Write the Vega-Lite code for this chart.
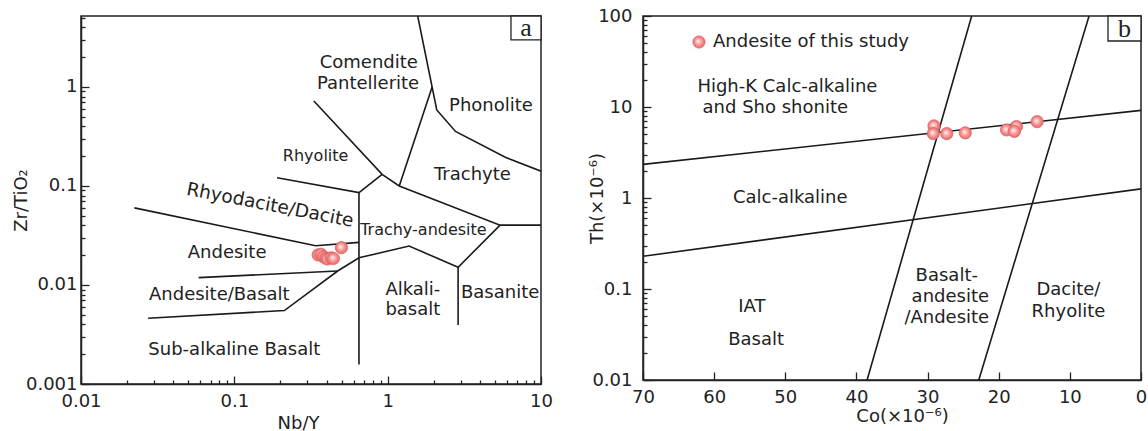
{
  "$schema": "https://vega.github.io/schema/vega-lite/v6.json",
  "padding": {"left": 11, "top": 6, "right": 0, "bottom": 0},
  "spacing": 34,
  "resolve": {"legend": {"shape": "independent"}},
  "config": {
    "font": "DejaVu Sans",
    "view": {"stroke": "#222", "strokeWidth": 1.5},
    "axis": {
      "domainColor": "#222", "domainWidth": 1.5, "tickColor": "#222", "tickWidth": 1.3,
      "labelColor": "#222", "labelFontSize": 18, "titleFontSize": 18, "titleFontWeight": "normal",
      "titleColor": "#222", "grid": false, "labelFont": "DejaVu Sans", "titleFont": "DejaVu Sans",
      "labelOverlap": false, "labelBound": false, "labelFlush": false
    },
    "text": {"font": "DejaVu Sans", "color": "#222"}
  },
  "datasets": {
    "fieldsA": [
      {"seg": "s1", "ord": 1, "nb_y": 1.57, "zr_tio2": 5.2},
      {"seg": "s1", "ord": 2, "nb_y": 2.09, "zr_tio2": 0.585},
      {"seg": "s1", "ord": 3, "nb_y": 2.77, "zr_tio2": 0.355},
      {"seg": "s1", "ord": 4, "nb_y": 5.85, "zr_tio2": 0.195},
      {"seg": "s1", "ord": 5, "nb_y": 10, "zr_tio2": 0.141},
      {"seg": "s2", "ord": 1, "nb_y": 1.19, "zr_tio2": 0.1},
      {"seg": "s2", "ord": 2, "nb_y": 1.95, "zr_tio2": 1.0},
      {"seg": "s3", "ord": 1, "nb_y": 0.33, "zr_tio2": 0.72},
      {"seg": "s3", "ord": 2, "nb_y": 0.92, "zr_tio2": 0.131},
      {"seg": "s3", "ord": 3, "nb_y": 1.19, "zr_tio2": 0.1},
      {"seg": "s3", "ord": 4, "nb_y": 5.41, "zr_tio2": 0.0402},
      {"seg": "s3", "ord": 5, "nb_y": 10, "zr_tio2": 0.0402},
      {"seg": "s4", "ord": 1, "nb_y": 0.92, "zr_tio2": 0.131},
      {"seg": "s4", "ord": 2, "nb_y": 0.65, "zr_tio2": 0.0858},
      {"seg": "s4", "ord": 3, "nb_y": 0.19, "zr_tio2": 0.121},
      {"seg": "s5", "ord": 1, "nb_y": 0.65, "zr_tio2": 0.0858},
      {"seg": "s5", "ord": 2, "nb_y": 0.65, "zr_tio2": 0.00157},
      {"seg": "s6", "ord": 1, "nb_y": 0.0223, "zr_tio2": 0.06},
      {"seg": "s6", "ord": 2, "nb_y": 0.339, "zr_tio2": 0.0249},
      {"seg": "s6", "ord": 3, "nb_y": 0.65, "zr_tio2": 0.0269},
      {"seg": "s7", "ord": 1, "nb_y": 0.0585, "zr_tio2": 0.01185},
      {"seg": "s7", "ord": 2, "nb_y": 0.472, "zr_tio2": 0.01384},
      {"seg": "s8", "ord": 1, "nb_y": 0.0274, "zr_tio2": 0.00461},
      {"seg": "s8", "ord": 2, "nb_y": 0.212, "zr_tio2": 0.00552},
      {"seg": "s8", "ord": 3, "nb_y": 0.472, "zr_tio2": 0.01384},
      {"seg": "s8", "ord": 4, "nb_y": 0.65, "zr_tio2": 0.0188},
      {"seg": "s8", "ord": 5, "nb_y": 1.38, "zr_tio2": 0.0247},
      {"seg": "s8", "ord": 6, "nb_y": 2.88, "zr_tio2": 0.0151},
      {"seg": "s8", "ord": 7, "nb_y": 5.41, "zr_tio2": 0.0402},
      {"seg": "s9", "ord": 1, "nb_y": 2.88, "zr_tio2": 0.0151},
      {"seg": "s9", "ord": 2, "nb_y": 2.88, "zr_tio2": 0.00395}
    ],
    "labelsA": [
      {"name": "Comendite", "nb_y": 0.753, "zr_tio2": 1.75},
      {"name": "Pantellerite", "nb_y": 0.745, "zr_tio2": 1.08},
      {"name": "Phonolite", "nb_y": 4.72, "zr_tio2": 0.645},
      {"name": "Trachyte", "nb_y": 3.57, "zr_tio2": 0.129},
      {"name": "Andesite", "nb_y": 0.0897, "zr_tio2": 0.0208},
      {"name": "Andesite/Basalt", "nb_y": 0.0798, "zr_tio2": 0.00793},
      {"name": "Alkali-", "nb_y": 1.46, "zr_tio2": 0.0089},
      {"name": "basalt", "nb_y": 1.46, "zr_tio2": 0.0056},
      {"name": "Basanite", "nb_y": 5.41, "zr_tio2": 0.00824},
      {"name": "Sub-alkaline Basalt", "nb_y": 0.1, "zr_tio2": 0.00222}
    ],
    "labelsAsmall": [
      {"name": "Rhyolite", "nb_y": 0.339, "zr_tio2": 0.2},
      {"name": "Trachy-andesite", "nb_y": 1.71, "zr_tio2": 0.0358}
    ],
    "labelsAtilted": [
      {"name": "Rhyodacite/Dacite", "nb_y": 0.171, "zr_tio2": 0.0643}
    ],
    "samplesA": [
      {"nb_y": 0.352, "zr_tio2": 0.0201},
      {"nb_y": 0.368, "zr_tio2": 0.0204},
      {"nb_y": 0.381, "zr_tio2": 0.0193},
      {"nb_y": 0.395, "zr_tio2": 0.0187},
      {"nb_y": 0.405, "zr_tio2": 0.0183},
      {"nb_y": 0.428, "zr_tio2": 0.0188},
      {"nb_y": 0.443, "zr_tio2": 0.0185},
      {"nb_y": 0.499, "zr_tio2": 0.0238}
    ],
    "tagA": [
      {"tag": "a", "nb_y": 6.37, "nb_y2": 10, "zr_tio2": 2.99, "zr_tio2_2": 5.2, "nb_y_c": 7.98, "zr_tio2_c": 3.94}
    ],
    "fieldsB": [
      {"seg": "b1", "ord": 1, "co": 70, "th": 2.34},
      {"seg": "b1", "ord": 2, "co": 0, "th": 9.18},
      {"seg": "b2", "ord": 1, "co": 70, "th": 0.229},
      {"seg": "b2", "ord": 2, "co": 0, "th": 1.26},
      {"seg": "b3", "ord": 1, "co": 23.8, "th": 100},
      {"seg": "b3", "ord": 2, "co": 38.5, "th": 0.01},
      {"seg": "b4", "ord": 1, "co": 7.3, "th": 100},
      {"seg": "b4", "ord": 2, "co": 22.8, "th": 0.01}
    ],
    "labelsB": [
      {"name": "High-K Calc-alkaline", "co": 49.7, "th": 16.7},
      {"name": "and  Sho shonite", "co": 51.4, "th": 9.75},
      {"name": "Calc-alkaline", "co": 49.3, "th": 1.0},
      {"name": "IAT", "co": 54.7, "th": 0.0642},
      {"name": "Basalt", "co": 54.1, "th": 0.0278},
      {"name": "Basalt-", "co": 27.3, "th": 0.138},
      {"name": "andesite", "co": 26.8, "th": 0.082},
      {"name": "/Andesite", "co": 27.3, "th": 0.0484},
      {"name": "Dacite/", "co": 10.2, "th": 0.0983},
      {"name": "Rhyolite", "co": 10.2, "th": 0.0565}
    ],
    "samplesB": [
      {"sample": "Andesite of this study", "co": 29.1, "th": 6.2},
      {"sample": "Andesite of this study", "co": 29.2, "th": 5.1},
      {"sample": "Andesite of this study", "co": 27.3, "th": 5.1},
      {"sample": "Andesite of this study", "co": 24.7, "th": 5.2},
      {"sample": "Andesite of this study", "co": 18.9, "th": 5.6},
      {"sample": "Andesite of this study", "co": 17.5, "th": 6.1},
      {"sample": "Andesite of this study", "co": 17.8, "th": 5.4},
      {"sample": "Andesite of this study", "co": 14.6, "th": 6.9}
    ],
    "tagB": [
      {"tag": "b", "co": 4.64, "co2": 0, "th": 53.1, "th2": 100, "co_c": 2.32, "th_c": 72.7}
    ]
  },
  "hconcat": [
    {
      "width": 460,
      "height": 368,
      "layer": [
        {
          "data": {"name": "fieldsA"},
          "mark": {"type": "line", "color": "#1a1a1a", "strokeWidth": 1.6, "clip": true},
          "encoding": {
            "x": {
              "field": "nb_y", "type": "quantitative",
              "scale": {"type": "log", "domain": [0.01, 10], "nice": false},
              "axis": {
                "title": "Nb/Y",
                "values": [0.01,0.02,0.03,0.04,0.05,0.06,0.07,0.08,0.09,0.1,0.2,0.3,0.4,0.5,0.6,0.7,0.8,0.9,1,2,3,4,5,6,7,8,9,10],
                "labelExpr": "abs(log(datum.value)/LN10 - round(log(datum.value)/LN10)) < 0.000001 ? format(datum.value, '~g') : ''",
                "tickSize": {"condition": {"test": "abs(log(datum.value)/LN10 - round(log(datum.value)/LN10)) < 0.000001", "value": -8}, "value": -4},
                "labelPadding": 16,
                "titlePadding": 0,
                "titleX": 217
              }
            },
            "y": {
              "field": "zr_tio2", "type": "quantitative",
              "scale": {"type": "log", "domain": [0.001, 5.2], "nice": false},
              "axis": {
                "title": "Zr/TiO₂",
                "values": [0.001,0.002,0.003,0.004,0.005,0.006,0.007,0.008,0.009,0.01,0.02,0.03,0.04,0.05,0.06,0.07,0.08,0.09,0.1,0.2,0.3,0.4,0.5,0.6,0.7,0.8,0.9,1,2,3,4,5],
                "labelExpr": "abs(log(datum.value)/LN10 - round(log(datum.value)/LN10)) < 0.000001 ? format(datum.value, '~g') : ''",
                "tickSize": {"condition": {"test": "abs(log(datum.value)/LN10 - round(log(datum.value)/LN10)) < 0.000001", "value": -8}, "value": -4},
                "labelPadding": 12,
                "titlePadding": -5
              }
            },
            "detail": {"field": "seg", "type": "nominal"},
            "order": {"field": "ord", "type": "quantitative"}
          }
        },
        {
          "data": {"name": "labelsA"},
          "mark": {"type": "text", "fontSize": 18, "align": "center", "baseline": "middle"},
          "encoding": {
            "x": {"field": "nb_y", "type": "quantitative"},
            "y": {"field": "zr_tio2", "type": "quantitative"},
            "text": {"field": "name"}
          }
        },
        {
          "data": {"name": "labelsAsmall"},
          "mark": {"type": "text", "fontSize": 16, "align": "center", "baseline": "middle"},
          "encoding": {
            "x": {"field": "nb_y", "type": "quantitative"},
            "y": {"field": "zr_tio2", "type": "quantitative"},
            "text": {"field": "name"}
          }
        },
        {
          "data": {"name": "labelsAtilted"},
          "mark": {"type": "text", "fontSize": 18.5, "align": "center", "baseline": "middle", "angle": 11},
          "encoding": {
            "x": {"field": "nb_y", "type": "quantitative"},
            "y": {"field": "zr_tio2", "type": "quantitative"},
            "text": {"field": "name"}
          }
        },
        {
          "data": {"name": "samplesA"},
          "mark": {
            "type": "point", "filled": true, "shape": "circle", "size": 150, "opacity": 1,
            "fill": {"gradient": "radial", "x1": 0.42, "y1": 0.42, "r1": 0, "x2": 0.5, "y2": 0.5, "r2": 0.55,
              "stops": [{"offset": 0, "color": "#fff2f2"}, {"offset": 0.45, "color": "#f7a3a3"}, {"offset": 1, "color": "#e65a5a"}]},
            "stroke": "#e06464", "strokeWidth": 0.8
          },
          "encoding": {
            "x": {"field": "nb_y", "type": "quantitative"},
            "y": {"field": "zr_tio2", "type": "quantitative"}
          }
        },
        {
          "data": {"name": "tagA"},
          "mark": {"type": "rect", "fill": "white", "stroke": "#222", "strokeWidth": 1.3},
          "encoding": {
            "x": {"field": "nb_y", "type": "quantitative"},
            "x2": {"field": "nb_y2"},
            "y": {"field": "zr_tio2", "type": "quantitative"},
            "y2": {"field": "zr_tio2_2"}
          }
        },
        {
          "data": {"name": "tagA"},
          "mark": {"type": "text", "font": "Liberation Serif", "fontSize": 26, "align": "center", "baseline": "middle"},
          "encoding": {
            "x": {"field": "nb_y_c", "type": "quantitative"},
            "y": {"field": "zr_tio2_c", "type": "quantitative"},
            "text": {"field": "tag"}
          }
        }
      ]
    },
    {
      "width": 498,
      "height": 364,
      "layer": [
        {
          "data": {"name": "fieldsB"},
          "mark": {"type": "line", "color": "#1a1a1a", "strokeWidth": 1.6, "clip": true},
          "encoding": {
            "x": {
              "field": "co", "type": "quantitative",
              "scale": {"domain": [0, 70], "reverse": true, "nice": false, "zero": false},
              "axis": {
                "title": "Co(×10⁻⁶)",
                "values": [0, 10, 20, 30, 40, 50, 60, 70],
                "tickSize": -8,
                "labelPadding": 16,
                "titlePadding": 1,
                "titleX": 259
              }
            },
            "y": {
              "field": "th", "type": "quantitative",
              "scale": {"type": "log", "domain": [0.01, 100], "nice": false},
              "axis": {
                "title": "Th(×10⁻⁶)",
                "values": [0.01,0.02,0.03,0.04,0.05,0.06,0.07,0.08,0.09,0.1,0.2,0.3,0.4,0.5,0.6,0.7,0.8,0.9,1,2,3,4,5,6,7,8,9,10,20,30,40,50,60,70,80,90,100],
                "labelExpr": "abs(log(datum.value)/LN10 - round(log(datum.value)/LN10)) < 0.000001 ? format(datum.value, '~g') : ''",
                "tickSize": {"condition": {"test": "abs(log(datum.value)/LN10 - round(log(datum.value)/LN10)) < 0.000001", "value": -8}, "value": -4},
                "labelPadding": 19,
                "titlePadding": -15
              }
            },
            "detail": {"field": "seg", "type": "nominal"},
            "order": {"field": "ord", "type": "quantitative"}
          }
        },
        {
          "data": {"name": "labelsB"},
          "mark": {"type": "text", "fontSize": 18, "align": "center", "baseline": "middle"},
          "encoding": {
            "x": {"field": "co", "type": "quantitative"},
            "y": {"field": "th", "type": "quantitative"},
            "text": {"field": "name"}
          }
        },
        {
          "data": {"name": "samplesB"},
          "mark": {
            "type": "point", "filled": true, "size": 150, "opacity": 1,
            "fill": {"gradient": "radial", "x1": 0.42, "y1": 0.42, "r1": 0, "x2": 0.5, "y2": 0.5, "r2": 0.55,
              "stops": [{"offset": 0, "color": "#fff2f2"}, {"offset": 0.45, "color": "#f7a3a3"}, {"offset": 1, "color": "#e65a5a"}]},
            "stroke": "#e06464", "strokeWidth": 0.8
          },
          "encoding": {
            "x": {"field": "co", "type": "quantitative"},
            "y": {"field": "th", "type": "quantitative"},
            "shape": {
              "field": "sample", "type": "nominal",
              "scale": {"range": ["circle"]},
              "legend": {
                "title": null, "orient": "none", "legendX": 47, "legendY": 17,
                "padding": 0, "labelFontSize": 18, "labelColor": "#222", "labelFont": "DejaVu Sans",
                "labelLimit": 0, "symbolSize": 150, "labelOffset": 5, "symbolStrokeWidth": 0.8,
                "encode": {
                  "symbols": {
                    "update": {
                      "fill": {"value": {"gradient": "radial", "x1": 0.42, "y1": 0.42, "r1": 0, "x2": 0.5, "y2": 0.5, "r2": 0.55,
                        "stops": [{"offset": 0, "color": "#fff2f2"}, {"offset": 0.45, "color": "#f7a3a3"}, {"offset": 1, "color": "#e65a5a"}]}},
                      "stroke": {"value": "#e06464"},
                      "opacity": {"value": 1}
                    }
                  }
                }
              }
            }
          }
        },
        {
          "data": {"name": "tagB"},
          "mark": {"type": "rect", "fill": "white", "stroke": "#222", "strokeWidth": 1.3},
          "encoding": {
            "x": {"field": "co", "type": "quantitative"},
            "x2": {"field": "co2"},
            "y": {"field": "th", "type": "quantitative"},
            "y2": {"field": "th2"}
          }
        },
        {
          "data": {"name": "tagB"},
          "mark": {"type": "text", "font": "Liberation Serif", "fontSize": 26, "align": "center", "baseline": "middle"},
          "encoding": {
            "x": {"field": "co_c", "type": "quantitative"},
            "y": {"field": "th_c", "type": "quantitative"},
            "text": {"field": "tag"}
          }
        }
      ]
    }
  ]
}
